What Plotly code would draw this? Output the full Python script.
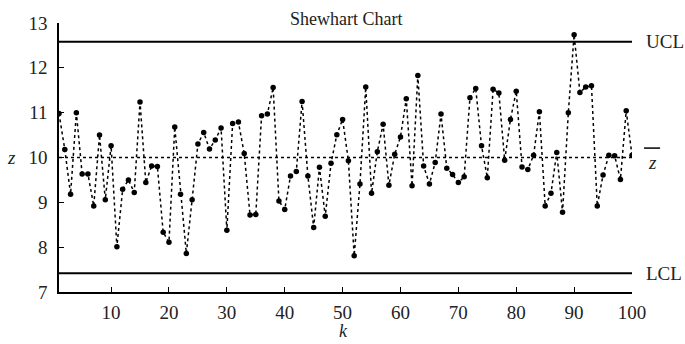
import plotly.graph_objects as go

k = list(range(1, 101))
z = [10.98, 10.18, 9.18, 11.0, 9.63, 9.63, 8.92, 10.5, 9.06, 10.26,
     8.01, 9.29, 9.5, 9.22, 11.24, 9.44, 9.81, 9.8, 8.33, 8.11,
     10.68, 9.18, 7.86, 9.06, 10.3, 10.56, 10.19, 10.39, 10.66, 8.38,
     10.76, 10.79, 10.09, 8.72, 8.73, 10.93, 10.97, 11.56, 9.03, 8.84,
     9.59, 9.69, 11.25, 9.59, 8.44, 9.78, 8.69, 9.87, 10.51, 10.85,
     9.93, 7.81, 9.41, 11.57, 9.2, 10.13, 10.74, 9.38, 10.07, 10.46,
     11.31, 9.37, 11.83, 9.81, 9.41, 9.89, 10.97, 9.76, 9.62, 9.44,
     9.57, 11.33, 11.54, 10.26, 9.55, 11.52, 11.44, 9.94, 10.85, 11.48,
     9.79, 9.73, 10.05, 11.02, 8.92, 9.2, 10.11, 8.78, 11.0, 12.74,
     11.45, 11.57, 11.6, 8.92, 9.61, 10.05, 10.04, 9.51, 11.04, 10.05]
UCL = 12.58
LCL = 7.42
MEAN = 10.0
x_ticks = [10, 20, 30, 40, 50, 60, 70, 80, 90, 100]
y_ticks = [7, 8, 9, 10, 11, 12, 13]

FONT = "Liberation Serif, Times New Roman, Times, serif"

fig = go.Figure()
fig.add_trace(go.Scatter(x=[1, 100], y=[UCL, UCL], mode="lines",
                         line=dict(color="black", width=2), hoverinfo="skip"))
fig.add_trace(go.Scatter(x=[1, 100], y=[LCL, LCL], mode="lines",
                         line=dict(color="black", width=2), hoverinfo="skip"))
fig.add_trace(go.Scatter(x=[1, 100], y=[MEAN, MEAN], mode="lines",
                         line=dict(color="black", width=1.5, dash="dot"), hoverinfo="skip"))
fig.add_trace(go.Scatter(x=k, y=z, mode="lines+markers",
                         line=dict(color="black", width=1.5, dash="dot"),
                         marker=dict(color="black", size=5.5)))

fig.update_layout(
    width=685, height=344,
    margin=dict(l=59, r=53, t=23, b=52),
    paper_bgcolor="white", plot_bgcolor="white",
    showlegend=False,
    font=dict(family=FONT, size=18, color="#222222"),
    xaxis=dict(range=[1, 100], tickvals=x_ticks, ticks="inside", ticklen=5,
               tickwidth=1, tickcolor="black", showline=True, linecolor="black",
               linewidth=1.5, showgrid=False, zeroline=False, mirror=False,
               ticklabelstandoff=2, tickfont=dict(size=19)),
    yaxis=dict(range=[7, 13], tickvals=y_ticks, ticks="inside", ticklen=5,
               tickwidth=1, tickcolor="black", showline=True, linecolor="black",
               linewidth=1.5, showgrid=False, zeroline=False,
               ticklabelstandoff=6, tickfont=dict(size=19)),
    annotations=[
        dict(text="Shewhart Chart", xref="paper", yref="paper", x=0.5, y=1.0,
             yshift=4, xanchor="center", yanchor="middle", showarrow=False,
             font=dict(size=18)),
        dict(text="<i>k</i>", xref="paper", yref="paper", x=0.496, y=0,
             yshift=-51, xanchor="center", yanchor="bottom", showarrow=False,
             font=dict(size=18)),
        dict(text="<i>z</i>", xref="paper", yref="y", x=0, y=MEAN,
             xshift=-48, xanchor="center", yanchor="middle", showarrow=False,
             font=dict(size=19)),
        dict(text="UCL", xref="paper", yref="y", x=1, y=UCL, xshift=12,
             xanchor="left", yanchor="middle", showarrow=False, font=dict(size=19)),
        dict(text="LCL", xref="paper", yref="y", x=1, y=LCL, xshift=12,
             xanchor="left", yanchor="middle", showarrow=False, font=dict(size=19)),
        dict(text="<i>z</i>", xref="paper", yref="y", x=1, y=MEAN, xshift=20,
             yshift=-5, xanchor="center", yanchor="middle", showarrow=False,
             font=dict(size=19)),
    ],
    shapes=[
        dict(type="line", xref="paper", yref="paper", x0=1.021, x1=1.049,
             y0=0.535, y1=0.535, line=dict(color="black", width=1.5)),
    ],
)

fig.write_html("out.html")
